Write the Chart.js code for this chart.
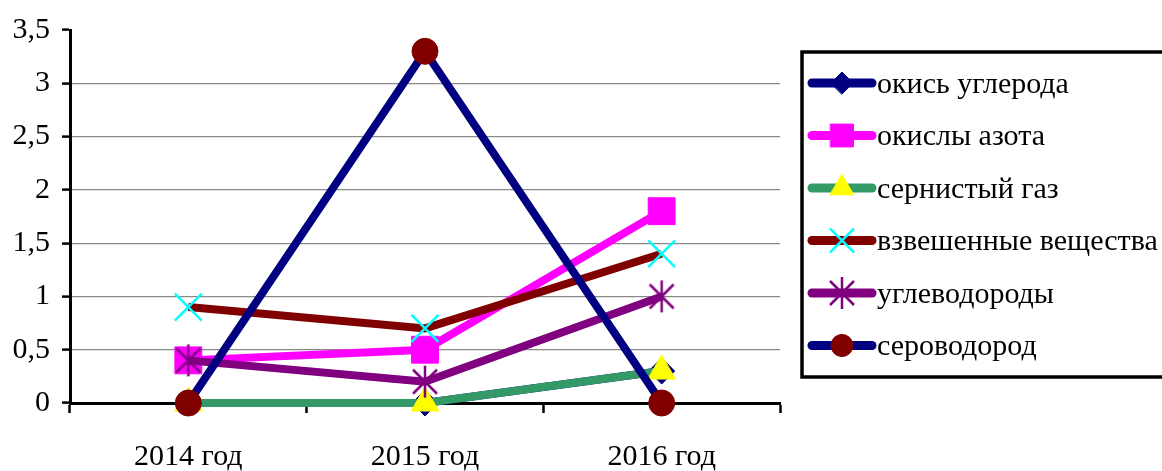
<!DOCTYPE html>
<html lang="ru">
<head>
<meta charset="utf-8">
<title>Выбросы загрязняющих веществ</title>
<script src="https://cdn.jsdelivr.net/npm/chart.js@4/dist/chart.umd.min.js"></script>
<style>
  html, body { margin: 0; padding: 0; background: #fff; }
  #wrap { width: 1162px; height: 471px; position: relative; }
</style>
</head>
<body>
<div id="wrap"><canvas id="chart" width="1162" height="471"></canvas></div>
<script>
// Categories and series values
const categories = ['2014 год', '2015 год', '2016 год'];
const yTickLabels = ['0', '0,5', '1', '1,5', '2', '2,5', '3', '3,5'];

const carbonMonoxide  = [0, 0, 0.3];     // окись углерода
const nitrogenOxides  = [0.4, 0.5, 1.8]; // окислы азота
const sulfurDioxide   = [0, 0, 0.3];     // сернистый газ
const suspendedSolids = [0.9, 0.7, 1.4]; // взвешенные вещества
const hydrocarbons    = [0.4, 0.2, 1.0]; // углеводороды
const hydrogenSulfide = [0, 3.3, 0];     // сероводород

const seriesNames = ['окись углерода', 'окислы азота', 'сернистый газ',
                     'взвешенные вещества', 'углеводороды', 'сероводород'];

const FONT = { family: '"Liberation Serif", "Times New Roman", serif', size: 30 };

// Asterisk marker: an X with a vertical stroke
function asteriskMarker(color) {
  const c = document.createElement('canvas');
  c.width = 30; c.height = 34;
  const g = c.getContext('2d');
  g.strokeStyle = color; g.lineWidth = 2.5; g.lineCap = 'butt';
  g.beginPath();
  g.moveTo(3, 5); g.lineTo(27, 29);
  g.moveTo(27, 5); g.lineTo(3, 29);
  g.moveTo(15, 1); g.lineTo(15, 33);
  g.stroke();
  return c;
}

function makeSet(label, data, line, fill, style, radius, border, order) {
  return {
    label, data,
    borderColor: line, borderWidth: 8, tension: 0,
    pointStyle: style, pointRadius: radius,
    pointBackgroundColor: fill, pointBorderColor: fill, pointBorderWidth: border,
    markerColor: fill,
    clip: false, order
  };
}

const datasets = [
  makeSet(seriesNames[0], carbonMonoxide,  '#000080', '#000080', 'rectRot', 13, 1, 5),
  makeSet(seriesNames[1], nitrogenOxides,  '#FF00FF', '#FF00FF', 'rect', 19, 1, 4),
  makeSet(seriesNames[2], sulfurDioxide,   '#339966', '#FFFF00', 'triangle', 16, 1, 3),
  makeSet(seriesNames[3], suspendedSolids, '#800000', '#00FFFF', 'crossRot', 19, 2.5, 2),
  makeSet(seriesNames[4], hydrocarbons,    '#800080', '#800080', asteriskMarker('#800080'), 16, 2.5, 1),
  makeSet(seriesNames[5], hydrogenSulfide, '#000080', '#800000', 'circle', 13, 1, 0)
];

// Boxed legend on the right: line segment with the series marker in the middle
const boxedLegend = {
  id: 'boxedLegend',
  afterDraw(chart) {
    const ctx = chart.ctx;
    const box = { x: 802, y: 52, w: 380, h: 325 };
    ctx.save();
    ctx.lineWidth = 3.5;
    ctx.strokeStyle = '#000';
    ctx.strokeRect(box.x, box.y, box.w, box.h);
    const rowH = 52.5;
    chart.data.datasets.forEach((ds, i) => {
      const y = 83 + i * rowH;
      ctx.beginPath();
      ctx.lineCap = 'round';
      ctx.lineWidth = 9;
      ctx.strokeStyle = ds.borderColor;
      ctx.moveTo(812, y); ctx.lineTo(872, y);
      ctx.stroke();
      ctx.fillStyle = ds.markerColor;
      ctx.strokeStyle = ds.markerColor;
      ctx.lineWidth = ds.pointBorderWidth;
      Chart.helpers.drawPoint(ctx, { pointStyle: ds.pointStyle, radius: ds.pointRadius * 0.85, rotation: 0, borderWidth: ds.pointBorderWidth }, 842, y);
      ctx.fillStyle = '#000';
      ctx.font = FONT.size + 'px ' + FONT.family;
      ctx.textBaseline = 'middle';
      ctx.textAlign = 'left';
      ctx.fillText(ds.label, 877, y + 2);
    });
    ctx.restore();
  }
};

new Chart(document.getElementById('chart'), {
  type: 'line',
  data: { labels: categories, datasets },
  options: {
    responsive: false,
    animation: false,
    events: [],
    layout: { padding: { left: 0, right: 382, top: 27, bottom: 0 } },
    plugins: { legend: { display: false }, tooltip: { enabled: false } },
    scales: {
      x: {
        type: 'category',
        offset: true,
        grid: { offset: true, drawOnChartArea: false, drawTicks: true, tickLength: 10, tickColor: '#000', tickWidth: 2.5 },
        border: { color: '#000', width: 3 },
        ticks: { font: FONT, color: '#000', padding: 26, maxRotation: 0 },
        afterFit(s) { s.height = 68; }
      },
      y: {
        min: 0, max: 3.5,
        ticks: { stepSize: 0.5, font: FONT, color: '#000', padding: 12,
                 callback: (v, i) => yTickLabels[i] },
        grid: {
          color: (c) => (c.tick && (c.tick.value === 0 || c.tick.value === 3.5)) ? 'rgba(0,0,0,0)' : '#8a8a8a',
          lineWidth: 1.2,
          tickColor: '#000', tickLength: 8, tickWidth: 2.5
        },
        border: { color: '#000', width: 3 },
        afterFit(s) { s.width = 70; }
      }
    }
  },
  plugins: [boxedLegend]
});
</script>
</body>
</html>
